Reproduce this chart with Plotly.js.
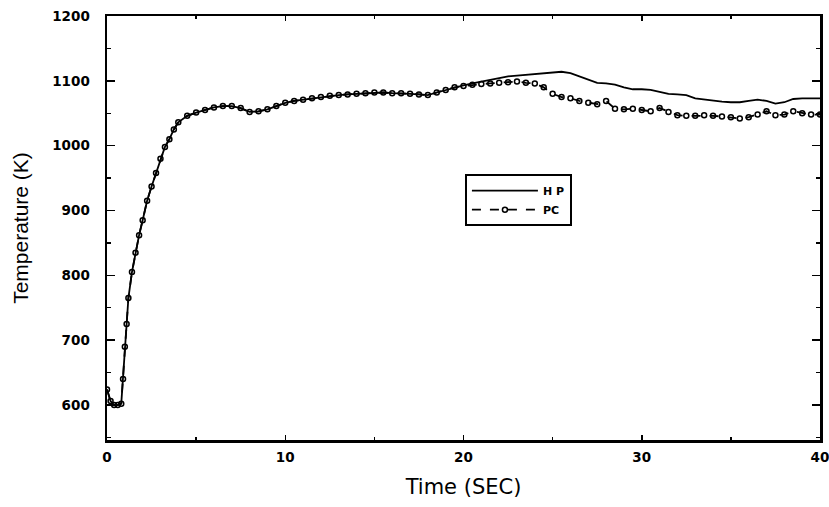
<!DOCTYPE html>
<html>
<head>
<meta charset="utf-8">
<script src="https://cdn.plot.ly/plotly-3.0.1.min.js"></script>
<style>html,body{margin:0;padding:0;background:#fff;}#chart{width:829px;height:507px;}</style>
</head>
<body>
<div id="chart"></div>
<script>
// Time (s)
const timePC = [0,0.2,0.4,0.6,0.8,0.9,1.0,1.1,1.2,1.4,1.6,1.8,2.0,2.25,2.5,2.75,3.0,3.25,3.5,3.75,4.0,4.5,5.0,5.5,6.0,6.5,7.0,7.5,8.0,8.5,9.0,9.5,10.0,10.5,11.0,11.5,12.0,12.5,13.0,13.5,14.0,14.5,15.0,15.5,16.0,16.5,17.0,17.5,18.0,18.5,19.0,19.5,20.0,20.5,21.0,21.5,22.0,22.5,23.0,23.5,24.0,24.5,25.0,25.5,26.0,26.5,27.0,27.5,28.0,28.5,29.0,29.5,30.0,30.5,31.0,31.5,32.0,32.5,33.0,33.5,34.0,34.5,35.0,35.5,36.0,36.5,37.0,37.5,38.0,38.5,39.0,39.5,40.0];
// PC temperature (K)
const tempPC = [624,606,600,600,602,640,690,725,765,805,835,862,885,915,937,958,980,998,1010,1025,1036,1046,1051,1055,1059,1061,1061,1058,1052,1053,1056,1061,1066,1069,1071,1073,1075,1077,1078,1079,1080,1081,1082,1082,1081,1081,1080,1079,1078,1082,1086,1090,1092,1094,1095,1096,1097,1098,1099,1097,1096,1090,1080,1075,1073,1069,1066,1064,1069,1057,1056,1057,1055,1053,1058,1052,1047,1046,1046,1047,1046,1045,1044,1042,1044,1048,1053,1047,1048,1053,1050,1048,1048];
// HP time (s)
const timeHP = [0,0.2,0.4,0.6,0.8,0.9,1.0,1.1,1.2,1.4,1.6,1.8,2.0,2.25,2.5,2.75,3.0,3.25,3.5,3.75,4.0,4.5,5.0,5.5,6.0,6.5,7.0,7.5,8.0,8.5,9.0,9.5,10.0,10.5,11.0,11.5,12.0,12.5,13.0,13.5,14.0,14.5,15.0,15.5,16.0,16.5,17.0,17.5,18.0,18.5,19.0,19.5,20.0,20.5,21.0,21.5,22.0,22.5,23.0,23.5,24.0,24.5,25.0,25.5,26.0,26.5,27.0,27.5,28.0,28.5,29.0,29.5,30.0,30.5,31.0,31.5,32.0,32.5,33.0,33.5,34.0,34.5,35.0,35.5,36.0,36.5,37.0,37.5,38.0,38.5,39.0,39.5,40.0];
// HP temperature (K)
const tempHP = [624,606,600,600,602,640,690,725,765,805,835,862,885,915,937,958,980,998,1010,1025,1036,1046,1051,1055,1059,1061,1061,1058,1052,1053,1056,1061,1066,1069,1071,1073,1075,1077,1078,1079,1080,1081,1082,1082,1081,1081,1080,1079,1078,1082,1086,1090,1093,1096,1099,1102,1104,1107,1108,1109,1110,1112,1113,1114,1112,1107,1102,1097,1096,1094,1090,1087,1087,1086,1083,1080,1079,1078,1073,1071,1069,1068,1067,1067,1069,1071,1069,1065,1067,1072,1073,1073,1073];

const seriesNames = ['H P', 'PC'];
const xTickVals = [0,10,20,30,40];
const yTickVals = [600,700,800,900,1000,1100,1200];

const traces = [
  {x: timeHP, y: tempHP, name: seriesNames[0], mode: 'lines', type: 'scatter',
   line: {color: '#000', width: 1.8}},
  {x: timePC, y: tempPC, name: seriesNames[1], mode: 'lines+markers', type: 'scatter',
   line: {color: '#000', width: 1.8, dash: 'dash'},
   marker: {symbol: 'circle-open', size: 5, color: '#000', line: {width: 1.5, color: '#000'}}}
];

const tickFont = {family: 'DejaVu Sans, sans-serif', size: 13.5, color: '#000', weight: 'bold'};
const xTitleFont = {family: 'DejaVu Sans, sans-serif', size: 21, color: '#000'};
const yTitleFont = {family: 'Liberation Sans Narrow, Liberation Sans, Arial, sans-serif', size: 21, color: '#000'};

const layout = {
  width: 829, height: 507,
  margin: {l: 107, r: 9, t: 16, b: 67},
  paper_bgcolor: '#fff', plot_bgcolor: '#fff',
  showlegend: true,
  legend: {x: 0.502, y: 0.627, xanchor: 'left', yanchor: 'top',
    bordercolor: '#000', borderwidth: 2, bgcolor: '#fff',
    font: {family: 'DejaVu Sans, sans-serif', size: 11, color: '#000', weight: 'bold'},
    tracegroupgap: 0, itemwidth: 66},
  xaxis: {
    range: [0, 40], tickvals: xTickVals, ticktext: xTickVals.map(String),
    showgrid: false, zeroline: false, showline: true, linecolor: '#000', linewidth: 2.5,
    mirror: 'ticks', ticks: 'inside', ticklen: 5, tickwidth: 1.5, tickcolor: '#000',
    minor: {dtick: 5, tick0: 0, ticks: 'inside', ticklen: 3, tickwidth: 1.5, tickcolor: '#000', showgrid: false},
    tickfont: tickFont, ticklabelstandoff: 3, ticklabeloverflow: 'allow',
    title: {text: 'Time (SEC)', font: xTitleFont, standoff: 16}
  },
  yaxis: {
    range: [546, 1200], tickvals: yTickVals, ticktext: yTickVals.map(String),
    showgrid: false, zeroline: false, showline: true, linecolor: '#000', linewidth: 2.5,
    mirror: 'ticks', ticks: 'inside', ticklen: 8, tickwidth: 1.5, tickcolor: '#000',
    minor: {dtick: 50, tick0: 0, ticks: 'inside', ticklen: 4, tickwidth: 1.5, tickcolor: '#000', showgrid: false},
    tickfont: tickFont, ticklabelstandoff: 12, ticklabeloverflow: 'allow',
    title: {text: 'Temperature (K)', font: yTitleFont, standoff: 18}
  }
};

Plotly.newPlot('chart', traces, layout, {displayModeBar: false, staticPlot: true});
</script>
</body>
</html>
